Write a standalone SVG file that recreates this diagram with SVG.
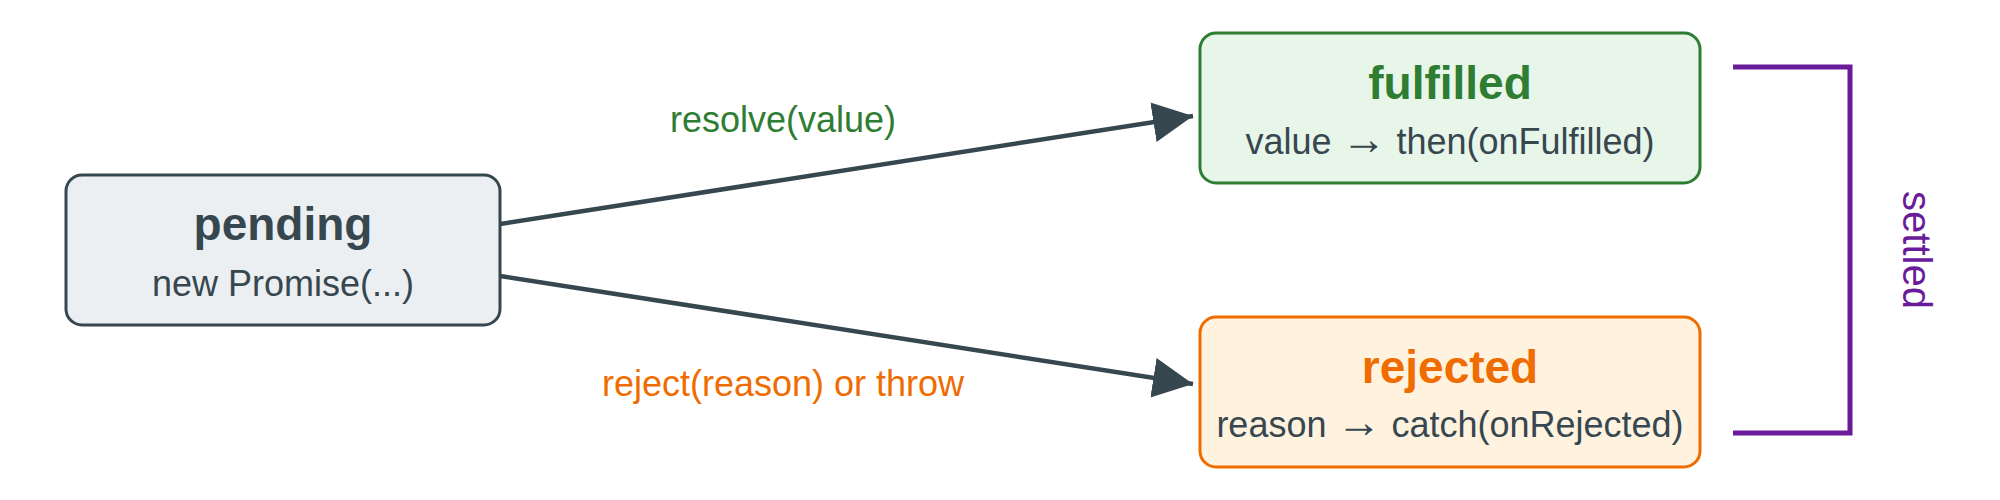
<svg xmlns="http://www.w3.org/2000/svg" width="2000" height="500" viewBox="0 0 2000 500">
  <style>
    .box { stroke-width: 3; }
    .title { font-family: "Liberation Sans", Arial, sans-serif; font-size: 46px; font-weight: bold; text-anchor: middle; }
    .sub { font-family: "Liberation Sans", Arial, sans-serif; font-size: 36px; fill: #37474f; text-anchor: middle; }
    .arr { font-size: 45px; }
    .lbl { font-family: "Liberation Sans", Arial, sans-serif; font-size: 36px; text-anchor: middle; }
    .edge { stroke: #37474f; stroke-width: 4.5; fill: none; }
  </style>
  <defs>
    <marker id="arrow" markerUnits="userSpaceOnUse" viewBox="0 0 40 40" markerWidth="40" markerHeight="40" refX="40" refY="20" orient="auto">
      <path d="M0,0 L40,20 L0,40 Z" fill="#37474f"/>
    </marker>
  </defs>
  <rect width="2000" height="500" fill="#ffffff"/>

  <g id="connectors">
    <line class="edge" x1="500" y1="224" x2="1193" y2="116" marker-end="url(#arrow)"/>
    <line class="edge" x1="500" y1="276" x2="1193" y2="384" marker-end="url(#arrow)"/>
    <text class="lbl" x="783" y="132" fill="#2e7d32">resolve(value)</text>
    <text class="lbl" x="783" y="396" fill="#ef6c00">reject(reason) or throw</text>
  </g>

  <g id="pending">
    <rect class="box" x="66" y="175" width="434" height="150" rx="16" fill="#eceff1" stroke="#37474f"/>
    <text class="title" x="283" y="240" fill="#37474f">pending</text>
    <text class="sub" x="283" y="296">new Promise(...)</text>
  </g>

  <g id="fulfilled">
    <rect class="box" x="1200" y="33" width="500" height="150" rx="16" fill="#e8f5e9" stroke="#2e7d32"/>
    <text class="title" x="1450" y="99" fill="#2e7d32">fulfilled</text>
    <text class="sub" x="1450" y="154">value <tspan class="arr">→</tspan> then(onFulfilled)</text>
  </g>

  <g id="rejected">
    <rect class="box" x="1200" y="317" width="500" height="150" rx="16" fill="#fff3e0" stroke="#ef6c00"/>
    <text class="title" x="1450" y="383" fill="#ef6c00">rejected</text>
    <text class="sub" x="1450" y="437">reason <tspan class="arr">→</tspan> catch(onRejected)</text>
  </g>

  <g id="settled">
    <path d="M1733,67 H1850 V433 H1733" fill="none" stroke="#6a1b9a" stroke-width="5"/>
    <text class="lbl" transform="translate(1903,250) rotate(90)" x="0" y="0" style="font-size:40px" fill="#6a1b9a">settled</text>
  </g>
</svg>
